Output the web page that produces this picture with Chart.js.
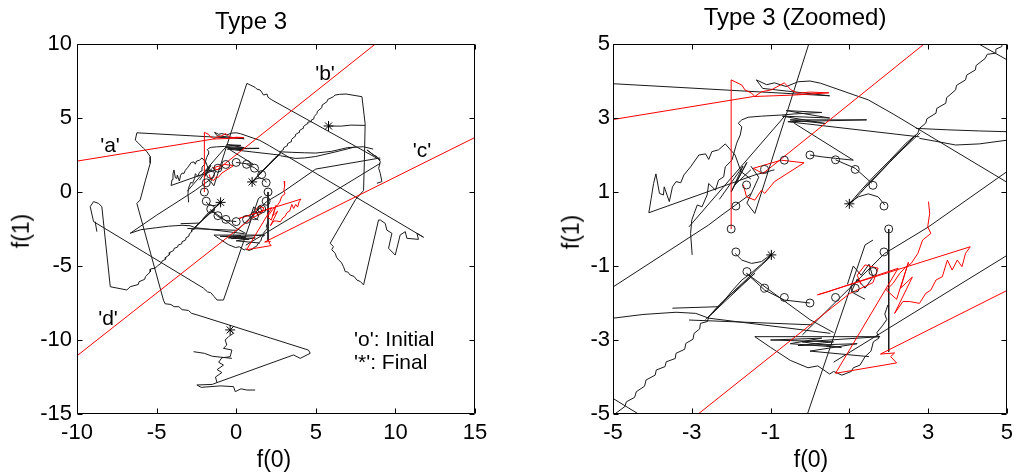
<!DOCTYPE html>
<html>
<head>
<meta charset="utf-8">
<script src="https://cdn.jsdelivr.net/npm/chart.js@4.4.0/dist/chart.umd.min.js"></script>
<style>
  body { margin:0; background:#fff; width:1019px; height:474px; overflow:hidden; position:relative;
         font-family:"Liberation Sans", Arial, sans-serif; }
  .box { position:absolute; top:0; height:474px; }
  .txt { position:absolute; color:#000; white-space:nowrap; transform:translate(-50%,-50%); line-height:1.15; }
  .lft { position:absolute; color:#000; white-space:nowrap; transform:translateY(-50%); font-size:21px; }
  .rot { transform:translate(-50%,-50%) rotate(-90deg); }
</style>
</head>
<body>
<div class="box" style="left:0;width:510px"><canvas id="left" width="510" height="474"></canvas></div>
<div class="box" style="left:510px;width:509px"><canvas id="right" width="509" height="474"></canvas></div>

<div class="txt" style="left:251px;top:21px;font-size:24px">Type 3</div>
<div class="txt" style="left:795px;top:17px;font-size:24px">Type 3 (Zoomed)</div>
<div class="txt" style="left:274px;top:459px;font-size:23px">f(0)</div>
<div class="txt" style="left:811px;top:459px;font-size:23px">f(0)</div>
<div class="txt rot" style="left:21px;top:231px;font-size:23px">f(1)</div>
<div class="txt rot" style="left:571px;top:232px;font-size:23px">f(1)</div>
<div class="txt" style="left:110px;top:145px;font-size:21px">'a'</div>
<div class="txt" style="left:325px;top:73px;font-size:21px">'b'</div>
<div class="txt" style="left:422px;top:150px;font-size:21px">'c'</div>
<div class="txt" style="left:108px;top:318px;font-size:21px">'d'</div>
<div class="lft" style="left:354px;top:339px">'o': Initial</div>
<div class="lft" style="left:354px;top:362px">'*': Final</div>

<script>
// axes
const fullX = [-10, 15]
const fullY = [-15, 10]
const fullTicksX = [-10, -5, 0, 5, 10, 15]
const fullTicksY = [-15, -10, -5, 0, 5, 10]
const zoomX = [-5, 5]
const zoomY = [-5, 5]
const zoomTicks = [-5, -3, -1, 1, 3, 5]

// 'o' initial points and '*' final points
const initX = [-2.0, -1.88, -1.61, -1.15, -0.65, 0.0, 0.65, 1.15, 1.6, 1.88, 2.0, 1.88, 1.6, 1.15, 0.65, 0.0, -0.65, -1.15, -1.6, -1.88]
const initY = [0.0, 0.62, 1.19, 1.61, 1.86, 2.0, 1.87, 1.61, 1.18, 0.62, 0.0, -0.62, -1.15, -1.6, -1.85, -2.0, -1.85, -1.6, -1.15, -0.62]
const finalX = [1.0, -0.98, 5.8, -0.38]
const finalY = [0.68, -0.7, 4.46, -9.32]

// black trajectories [f(0), f(1)]
const pathNE = [[1.0,0.68],[1.3,1.05],[1.61,1.41],[2.03,1.86],[2.44,2.32],[2.74,2.59],[2.78,2.72],[2.94,2.86],[2.97,2.98],[3.2,3.13],[3.22,3.26],[3.45,3.4],[3.47,3.55],[3.7,3.76],[3.72,3.88],[3.95,4.03],[3.98,4.16],[4.2,4.3],[4.22,4.42],[4.45,4.61],[4.5,4.72],[4.7,4.75],[4.72,4.86],[4.87,4.93],[4.9,5.1],[5.07,5.3],[5.1,5.45],[5.38,5.7],[5.4,5.88],[5.7,6.1],[5.75,6.25],[6.11,6.44],[6.2,6.55],[6.5,6.6],[6.9,6.62],[7.9,6.44],[8.1,4.6],[8.05,2.0],[8.0,0.1],[7.5,-0.5],[5.9,-3.47],[6.11,-3.69],[6.0,-3.9],[6.22,-4.14],[6.3,-4.4],[6.43,-4.59],[6.6,-4.75],[6.74,-5.05],[6.85,-5.38],[7.0,-5.4],[7.16,-5.61],[7.4,-5.7],[7.58,-5.95],[7.8,-6.05],[8.0,-6.28],[8.94,-1.89],[9.05,-1.89],[9.36,-2.12],[9.46,-2.57],[9.78,-2.79],[9.57,-3.8],[9.99,-4.26],[10.3,-2.9],[10.62,-2.68],[10.72,-3.13],[11.45,-3.2],[11.35,-2.79],[11.77,-3.06],[2.11,3.11],[1.48,3.49],[0.27,3.94],[0.0,4.0],[-0.3,3.98],[-0.6,3.85],[-0.9,3.95],[-1.1,3.9],[-1.36,4.03],[-1.2,3.8],[0.5,3.6],[-6.24,4.0],[-6.34,3.51],[-6.13,3.29],[-5.82,2.95],[-5.61,2.73],[-5.4,2.39],[-5.4,1.94],[-5.7,0.8],[-6.03,-0.54],[-6.24,-0.77],[-4.57,-7.3],[-4.47,-7.55],[-4.1,-7.6],[-3.9,-7.75],[-3.6,-7.75],[-3.4,-7.95],[-3.0,-8.0],[-2.8,-8.2],[-2.47,-8.3],[4.54,-10.68],[4.65,-10.9],[4.02,-11.24],[3.6,-11.01],[-1.21,-12.88],[-1.5,-13.0],[-2.47,-13.04],[-2.2,-13.2],[-1.0,-13.1],[-0.17,-13.15],[-0.06,-13.49],[0.3,-13.3],[0.67,-13.38],[1.19,-13.38]]
const pathStarChain = [[-0.38,-9.32],[-0.17,-9.55],[-0.48,-9.77],[-0.69,-10.0],[-0.59,-10.34],[-0.8,-10.56],[-0.27,-10.68],[-0.38,-11.13],[-0.9,-11.2],[-1.1,-11.5],[-0.8,-11.7],[-1.2,-12.0],[-0.9,-12.2],[-1.3,-12.5],[-1.21,-12.88]]
const pathBottomBranch = [[-2.68,-10.79],[-2.0,-10.9],[-1.5,-11.1],[-0.27,-11.24]]
const pathApex = [[-1.4,0.42],[0.67,7.34],[1.19,7.07],[1.3,6.95],[1.51,6.89],[1.72,6.55],[1.93,6.62],[2.0,6.4],[2.24,6.22],[9.05,2.16],[8.84,2.39],[8.63,2.5],[8.4,2.7],[8.21,2.84],[8.5,2.6],[8.9,2.3],[9.05,2.05],[8.95,1.6],[9.05,1.26],[9.15,0.7],[8.84,0.59]]
const pathStarE = [[8.1,4.5],[7.2,4.52],[6.6,4.45],[5.8,4.46]]
const pathSW = [[-0.98,-0.7],[-1.23,-0.95],[-1.5,-1.2],[-1.73,-1.38],[-2.0,-1.7],[-2.23,-2.01],[-2.4,-2.2],[-2.57,-2.37],[-2.6,-2.5],[-2.78,-2.55],[-2.8,-2.7],[-2.94,-2.82],[-2.97,-2.98],[-3.15,-3.09],[-3.18,-3.25],[-3.4,-3.36],[-3.42,-3.5],[-3.65,-3.59],[-3.68,-3.72],[-3.9,-3.81],[-3.93,-3.95],[-4.16,-4.08],[-4.2,-4.25],[-4.41,-4.4],[-4.45,-4.55],[-4.66,-4.67],[-4.7,-4.8],[-4.93,-4.98],[-5.1,-5.15],[-5.38,-5.2],[-5.4,-5.4],[-5.7,-5.72],[-5.75,-5.9],[-6.1,-6.06],[-6.15,-6.25],[-6.66,-6.4],[-6.87,-6.62],[-7.91,-6.4],[-8.44,-0.99],[-8.65,-0.77],[-8.96,-0.65],[-9.17,-0.99],[-8.96,-2.0],[-2.05,-6.5],[-1.8,-6.75],[-1.6,-6.8],[-1.4,-7.05],[-1.2,-7.3],[-0.8,-7.3],[1.4,-0.43],[1.6,-0.3]]
const pathHook = [[-8.86,-2.0],[-8.75,-2.68]]
const pathThickNE = [[1.05,0.7],[1.6,1.35],[2.1,1.9],[2.7,2.55],[1.3,1.0],[2.2,2.0],[2.8,2.6]]
const pathThickSW = [[-1.0,-0.75],[-1.7,-1.45],[-2.3,-2.05],[-2.6,-2.4],[-1.4,-1.2],[-2.1,-1.85],[-2.65,-2.45]]
const pathZ1 = [[-6.66,-2.79],[-4.99,-1.56],[-2.57,0.11],[-2.26,0.36],[-1.5,0.95]]
const pathZ2 = [[9.05,2.3],[5.0,1.55],[3.0,0.05],[1.9,-0.66],[-0.19,-2.86]]
const pathZ3 = [[9.05,1.94],[0.6,-3.6]]
const curveSW = [[-6.66,-2.79],[-6.0,-2.55],[-4.99,-2.41],[-4.24,-2.31],[-3.4,-2.25],[-2.9,-2.28],[-2.57,-2.41]]
const curveSW2 = [[-3.49,-2.14],[-2.32,-2.1]]
const curveNE1 = [[2.69,2.72],[3.5,2.68],[4.3,2.65],[5.0,2.63],[6.0,2.75],[7.0,3.0],[8.0,3.06],[8.6,2.9]]
const curveNE2 = [[2.78,2.45],[3.3,2.35],[3.7,2.27],[4.3,2.3],[5.0,2.4],[6.2,2.7],[7.5,3.05]]
const pathUL1 = [[-4.09,0.44],[-4.03,0.83],[-3.97,1.23],[-3.91,1.49],[-3.82,0.96],[-3.72,0.92],[-3.7,1.14],[-3.57,0.74],[-3.49,1.14],[-3.4,1.28],[-3.28,1.25],[-3.2,1.46],[-3.03,1.68],[-2.82,2.0],[-2.65,2.03],[-2.57,1.88],[-2.49,2.09],[-2.32,2.14],[-2.15,2.3],[-1.9,2.0],[-1.75,1.55],[-1.5,1.35]]
const pathUL2 = [[-4.09,0.44],[-1.4,1.46],[-0.9,1.6]]
const pathUL3 = [[-2.99,-0.7],[-3.03,-0.12],[-3.0,0.24],[-2.94,0.42],[-2.86,0.65],[-2.74,0.6],[-2.61,0.92],[-2.57,1.23],[-2.4,1.05],[-2.32,1.32],[-2.19,1.41],[-2.15,1.68],[-1.98,1.86],[-1.86,2.32],[-1.77,2.54],[-1.73,2.76],[-1.82,2.86],[-1.73,2.95],[-1.57,3.02],[-1.23,3.05],[-0.73,3.08],[-0.4,3.11],[0.3,3.15],[-0.6,3.2],[0.5,3.0],[-0.7,3.05],[0.4,2.85],[-0.5,2.95],[1.44,2.95],[-0.56,2.9],[2.78,2.49]]
const pathUL4 = [[-0.4,2.86],[1.1,1.86]]
const pathUL5 = [[-3.07,0.06],[-0.6,3.1]]
const pathUL6 = [[-1.4,0.42],[-1.6,0.7],[-1.3,1.4],[-1.5,1.7]]
const pathUL7 = [[-2.3,0.8],[-1.7,1.7],[-2.0,1.0],[-1.6,1.8],[-1.9,1.2],[-1.5,1.6]]
const pathLR1 = [[1.98,-2.05],[1.9,-2.3],[1.95,-2.45],[1.85,-2.6],[1.7,-2.8],[1.75,-2.95],[1.61,-3.05],[1.55,-3.3],[1.4,-3.45],[1.27,-3.68],[1.1,-3.75],[1.05,-3.85],[0.81,-3.95],[0.6,-3.85],[0.5,-3.92],[0.2,-3.7],[-0.05,-3.75],[-0.5,-3.55],[-1.0,-3.2],[-1.4,-2.91]]
const pathLR2 = [[-1.4,-2.91],[1.78,-2.91],[-0.2,-3.05],[0.8,-3.2],[-0.5,-3.1],[0.3,-2.95],[-1.0,-3.0],[0.6,-3.05],[-0.3,-3.15],[1.2,-3.1],[0.0,-3.3],[1.5,-3.45]]
const pathLR3 = [[-2.57,-2.41],[0.52,-2.82]]
const pathLR4 = [[-3.07,-2.46],[0.06,-2.59]]
const pathLR5 = [[-1.61,-1.2],[0.0,-2.45],[0.6,-2.8]]
const pathLR6 = [[0.95,-1.5],[1.1,-1.0],[1.3,-1.25],[1.5,-0.95],[1.6,-1.3],[1.4,-1.6],[1.2,-1.35],[1.05,-1.7],[1.4,-1.9]]
const pathVert = [[2.0,0.0],[2.0,-3.32]]
const arcNE = [[0.0,2.0],[0.31,1.95],[0.65,1.91],[1.1,1.86]]
const arcNE2 = [[0.65,1.87],[1.15,1.64],[1.57,1.24]]
const arcSW = [[0.0,-2.0],[-0.65,-1.92],[-1.15,-1.65],[-1.61,-1.2]]
const arcE = [[1.9,0.65],[1.73,0.87],[1.48,0.95],[1.23,0.87],[0.98,0.69]]
const arcW = [[-1.9,-0.66],[-1.73,-0.84],[-1.48,-0.93],[-1.23,-0.88],[-0.98,-0.68]]

// red trajectories
const redA = [[-2.0,0.0],[-2.0,4.03],[-1.73,3.89],[-1.65,3.76],[-1.48,3.67],[-1.4,3.58],[-1.23,3.71],[-0.98,3.76],[-0.65,3.95],[-0.48,3.76],[-0.31,3.67],[0.0,3.7],[0.48,3.68],[-0.4,3.62],[-1.44,3.58],[-10.5,2.0]]
const redB = [[-1.69,1.19],[-1.61,0.87],[-1.4,0.78],[-1.23,1.05],[-1.15,0.96],[-0.9,1.28],[-0.15,1.79],[-0.73,1.86],[-1.44,1.64],[-1.2,1.5],[-0.98,1.68],[9.5,10.65]]
const redC = [[3.01,0.74],[3.04,0.42],[2.99,0.06],[3.07,-0.12],[2.86,-0.3],[2.74,-0.66],[2.57,-0.93],[2.44,-1.02],[2.28,-1.2],[2.11,-1.47],[1.94,-1.65],[2.2,-1.9],[2.5,-0.9],[2.3,-1.6],[2.6,-1.3],[2.15,-2.28],[2.36,-1.96],[2.53,-1.96],[2.78,-2.01],[2.94,-1.74],[3.07,-1.65],[3.2,-1.38],[3.36,-1.29],[3.49,-0.84],[3.61,-1.11],[3.74,-0.84],[3.86,-1.02],[3.95,-0.66],[4.07,-0.48],[0.19,-1.78],[0.45,-1.7],[2.24,-1.06],[0.65,-3.9],[2.2,-3.62],[2.05,-3.45],[2.15,-3.35],[1.79,-3.38],[16.0,4.22]]
const redD = [[1.3,-1.5],[1.2,-1.25],[1.4,-0.97],[1.73,-1.06],[1.6,-1.45],[1.0,-1.75],[-10.5,-11.49]]

const blackPaths = [pathNE, pathStarChain, pathBottomBranch, pathApex, pathStarE, pathSW, pathHook, pathThickNE, pathThickSW,
  pathZ1, pathZ2, pathZ3, curveSW, curveSW2, curveNE1, curveNE2, pathUL1, pathUL2, pathUL3, pathUL4, pathUL5, pathUL6, pathUL7,
  pathLR1, pathLR2, pathLR3, pathLR4, pathLR5, pathLR6, pathVert, arcNE, arcNE2, arcSW, arcE, arcW]
const redPaths = [redA, redB, redC, redD]

const FONT = '"Liberation Sans", Arial, sans-serif'

function lineSet(path, color, order) {
  return {
    data: path.map(p => ({ x: p[0], y: p[1] })),
    showLine: true, borderColor: color, borderWidth: 1, tension: 0, fill: false,
    pointRadius: 0, pointHoverRadius: 0, order: order
  }
}

function buildSets() {
  let sets = []
  sets.push({
    data: initX.map((v, i) => ({ x: v, y: initY[i] })),
    showLine: false, pointStyle: 'circle', pointRadius: 4, pointBorderWidth: 1,
    pointBorderColor: '#222', pointBackgroundColor: 'rgba(0,0,0,0)', order: 0
  })
  sets.push({
    data: finalX.map((v, i) => ({ x: v, y: finalY[i] })),
    showLine: false, pointStyle: 'star', pointRadius: 5, pointBorderWidth: 1,
    pointBorderColor: '#000', pointBackgroundColor: '#000', order: 0
  })
  redPaths.forEach(p => sets.push(lineSet(p, '#ff0000', 1)))
  blackPaths.forEach(p => sets.push(lineSet(p, '#1a1a1a', 2)))
  return sets
}

// box round the plot with inward tick marks on all four sides
const frame = {
  id: 'frame',
  afterDatasetsDraw(chart) {
    const { ctx, chartArea: a, scales: { x, y } } = chart
    const L = Math.round(a.left) + 0.5, R = Math.round(a.right) - 0.5
    const T = Math.round(a.top) + 0.5, B = Math.round(a.bottom) - 0.5
    ctx.save()
    ctx.strokeStyle = '#000'
    ctx.lineWidth = 1
    ctx.beginPath()
    ctx.rect(L, T, R - L, B - T)
    x.ticks.forEach(t => {
      const px = Math.round(x.getPixelForValue(t.value)) + 0.5
      ctx.moveTo(px, B); ctx.lineTo(px, B - 5)
      ctx.moveTo(px, T); ctx.lineTo(px, T + 5)
    })
    y.ticks.forEach(t => {
      const py = Math.round(y.getPixelForValue(t.value)) + 0.5
      ctx.moveTo(L, py); ctx.lineTo(L + 5, py)
      ctx.moveTo(R, py); ctx.lineTo(R - 5, py)
    })
    ctx.stroke()
    ctx.restore()
  }
}

function makeChart(id, xr, yr, xt, yt, yWidth, padRight, yPad) {
  return new Chart(document.getElementById(id), {
    type: 'scatter',
    data: { datasets: buildSets() },
    options: {
      responsive: false, animation: false, events: [],
      devicePixelRatio: 1,
      layout: { padding: { left: 0, right: padRight, top: 44, bottom: 0 } },
      plugins: { legend: { display: false }, tooltip: { enabled: false }, title: { display: false } },
      scales: {
        x: {
          type: 'linear', min: xr[0], max: xr[1],
          afterBuildTicks: s => { s.ticks = xt.map(v => ({ value: v })) },
          afterFit: s => { s.height = 60 },
          grid: { display: false, drawTicks: false }, border: { display: false },
          ticks: { color: '#000', font: { size: 22, family: FONT }, padding: 6, maxRotation: 0, autoSkip: false }
        },
        y: {
          type: 'linear', min: yr[0], max: yr[1],
          afterBuildTicks: s => { s.ticks = yt.map(v => ({ value: v })) },
          afterFit: s => { s.width = yWidth },
          grid: { display: false, drawTicks: false }, border: { display: false },
          ticks: { color: '#000', font: { size: 22, family: FONT }, padding: yPad, autoSkip: false }
        }
      }
    },
    plugins: [frame]
  })
}

makeChart('left', fullX, fullY, fullTicksX, fullTicksY, 77, 35, 5)
makeChart('right', zoomX, zoomY, zoomTicks, zoomTicks, 103, 7, 3)
</script>
</body>
</html>
